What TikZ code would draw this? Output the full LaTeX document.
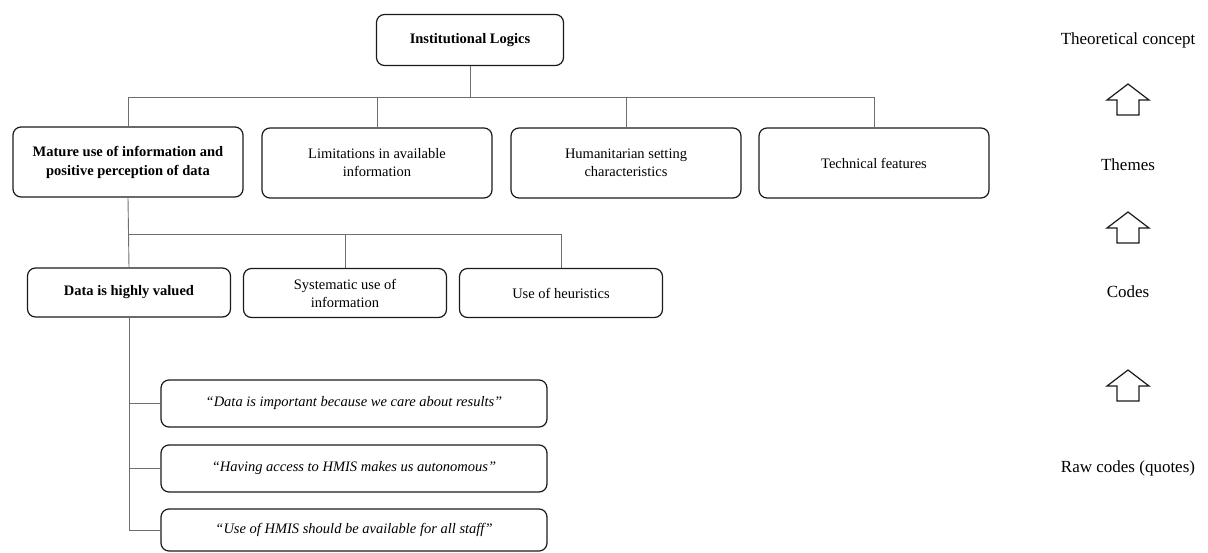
\documentclass[tikz,border=0pt]{standalone}
\usepackage{fontspec}
\setmainfont{Liberation Serif}
\usepackage{tikz}
\definecolor{BoxInk}{HTML}{1A1A1A}
\definecolor{LinkGray}{HTML}{6E6E6E}
\tikzset{
  codebox/.style={draw=BoxInk, line width=1.2pt, rounded corners=8pt,
    align=center, inner sep=2pt, font=\fontsize{14.5}{18}\selectfont},
  themebox/.style={codebox, minimum width=230pt, minimum height=70pt},
  subbox/.style={codebox, minimum width=203pt, minimum height=49pt},
  quotebox/.style={codebox, minimum width=386pt, minimum height=47pt,
    font=\fontsize{14.5}{18}\selectfont\itshape},
  link/.style={draw=LinkGray, line width=0.9pt},
  levelname/.style={font=\fontsize{17}{20}\selectfont},
  uparrow/.pic={\draw[line width=1.2pt,BoxInk] (-21,0) -- (0,-16) -- (21,0)
    -- (11,0) -- (11,15) -- (-11,15) -- (-11,0) -- cycle;}
}

\begin{document}
\begin{tikzpicture}[x=1pt, y=-1pt]
        \useasboundingbox (0,0) rectangle (1208,552);
        \node[codebox, minimum width=187pt, minimum height=51pt, font=\fontsize{14.5}{18}\selectfont\bfseries]
          (il) at (470,40) {Institutional Logics};
        \node[themebox, font=\fontsize{14.5}{19}\selectfont\bfseries] (mature) at (128,162)
          {Mature use of information and\\positive perception of data};
        \node[themebox] (limits) at (377,163) {Limitations in available\\information};
        \node[themebox] (humanit) at (626,163) {Humanitarian setting\\characteristics};
        \node[themebox] (techfeat) at (874,163) {Technical features};
        \node[subbox, font=\fontsize{14.5}{18}\selectfont\bfseries] (dataval) at (129,292.5)
          {Data is highly valued};
        \node[subbox] (sysuse) at (345,293) {Systematic use of\\information};
        \node[subbox] (heur) at (561,293) {Use of heuristics};
        \node[quotebox] (quoteA) at (354,403.5)
          {“Data is important because we care about results”};
        \node[quotebox] (quoteB) at (354,468.5)
          {“Having access to HMIS makes us autonomous”};
        \node[quotebox, minimum height=42pt] (quoteC) at (354,530)
          {“Use of HMIS should be available for all staff”};

        \coordinate (busA) at (470,97);
        \coordinate (busB) at (129,234);
        \draw[link] (il.south) -- (busA);
        \draw[link] (mature.north) |- (busA -| techfeat.north) -- (techfeat.north);
        \draw[link] (busA -| limits.north) -- (limits.north);
        \draw[link] (busA -| humanit.north) -- (humanit.north);
        \draw[link] (mature.south) -- (dataval.north);
        \draw[link] (busB) -| (heur.north);
        \draw[link] (busB -| sysuse.north) -- (sysuse.north);
        \draw[link] (dataval.south) |- (quoteC.west);
        \draw[link] (quoteA.west -| dataval.south) -- (quoteA.west);
        \draw[link] (quoteB.west -| dataval.south) -- (quoteB.west);

        \node[levelname] (lvtheory) at (1128,40) {Theoretical concept};
        \node[levelname] (lvthemes) at (1128,165) {Themes};
        \node[levelname] (lvcodes) at (1128,292) {Codes};
        \node[levelname] (lvraw) at (1128,468) {Raw codes (quotes)};
        \pic at (1128,100) {uparrow};
        \pic at (1128,228) {uparrow};
        \pic at (1128,386) {uparrow};
      \end{tikzpicture}
\end{document}
